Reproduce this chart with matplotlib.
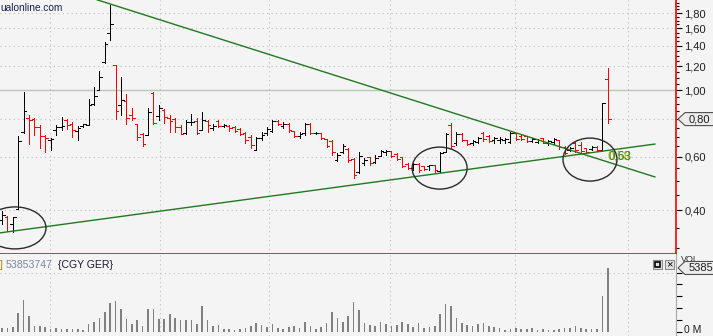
import matplotlib
matplotlib.use('Agg')
import numpy as np
import matplotlib.pyplot as plt
from matplotlib.patches import Ellipse, Polygon, Rectangle
from matplotlib.transforms import IdentityTransform, ScaledTranslation
from matplotlib.ticker import FixedLocator, FixedFormatter, NullFormatter

plt.rcParams['font.family'] = ['Liberation Sans', 'DejaVu Sans']

# daily OHLC (EUR)
opens = [.371, .380, .360, .403, .726, .808, .801, .754, .704, .683,
         .737, .754, .795, .771, .731, .760, .766, .899, 1.000, 1.238,
         1.545, 1.210, .892, .920, .826, .771, .715, .709, .977, .820,
         .858, .808, .801, .754, .720, .783, .789, .737, .789, .748,
         .789, .760, .760, .754, .743, .720, .699, .633, .693, .720,
         .731, .789, .760, .771, .731, .704, .720, .771, .720, .720,
         .688, .678, .586, .623, .638, .590, .535, .573, .600, .577,
         .604, .623, .628, .614, .600, .569, .551, .569, .560, .560,
         .564, .539, .623, .766, .667, .715, .683, .667, .672, .720,
         .704, .683, .683, .683, .672, .720, .704, .704, .678, .672,
         .693, .667, .672, .683, .647, .633, .667, .657, .642, .638,
         .647, .633, 1.088]
highs = [.397, .382, .380, .704, .985, .826, .808, .766, .709, .693,
         .766, .814, .801, .783, .760, .771, .934, 1.023, 1.156, 1.443,
         1.913, 1.210, 1.104, .970, .872, .771, .720, .872, .985, .892,
         .865, .826, .808, .766, .795, .833, .808, .845, .795, .771,
         .795, .771, .766, .760, .748, .726, .709, .699, .726, .754,
         .795, .795, .783, .777, .731, .726, .777, .777, .726, .720,
         .688, .683, .618, .662, .642, .595, .623, .595, .600, .609,
         .633, .633, .628, .618, .600, .573, .573, .573, .560, .564,
         .564, .623, .720, .777, .726, .720, .683, .683, .699, .726,
         .709, .699, .699, .693, .726, .720, .715, .704, .693, .688,
         .693, .683, .693, .683, .652, .647, .672, .672, .642, .652,
         .652, .905, 1.183]
lows = [.360, .341, .338, .403, .720, .662, .709, .642, .623, .633,
        .709, .737, .743, .699, .683, .754, .766, .892, 1.000, 1.229,
        1.465, .801, .826, .771, .795, .683, .652, .709, .771, .795,
        .777, .726, .726, .715, .715, .766, .715, .737, .726, .737,
        .754, .754, .731, .726, .709, .667, .642, .633, .683, .709,
        .726, .766, .748, .726, .699, .693, .709, .715, .715, .688,
        .647, .609, .582, .618, .577, .511, .531, .564, .564, .573,
        .604, .609, .600, .586, .556, .547, .543, .535, .543, .543,
        .535, .535, .623, .642, .657, .678, .657, .657, .667, .678,
        .672, .667, .667, .667, .667, .683, .683, .672, .672, .667,
        .667, .657, .662, .638, .614, .628, .623, .623, .618, .633,
        .628, .633, .777]
closes = [.385, .341, .380, .678, .852, .795, .754, .704, .693, .688,
          .754, .760, .766, .737, .748, .771, .892, .955, 1.104, 1.421,
          1.655, .852, .927, .808, .808, .699, .662, .845, .777, .872,
          .814, .789, .754, .715, .783, .783, .720, .795, .766, .760,
          .760, .766, .748, .731, .715, .683, .657, .693, .709, .743,
          .789, .771, .771, .737, .704, .715, .771, .720, .720, .693,
          .652, .623, .609, .652, .586, .523, .604, .586, .573, .595,
          .628, .628, .604, .590, .560, .551, .569, .543, .547, .564,
          .543, .618, .715, .652, .715, .683, .662, .678, .693, .688,
          .678, .693, .688, .688, .720, .688, .688, .678, .688, .683,
          .667, .678, .688, .647, .618, .642, .633, .628, .623, .647,
          .633, .905, .801]
# volume in millions of shares
volume_m = [3.6, 3.6, 4.2, 16.0, 26.7, 13.2, 4.8, 4.8, 4.0, 2.8,
            3.6, 2.8, 2.8, 2.3, 2.3, 1.4, 6.5, 8.2, 12.0, 16.6,
            24.4, 25.8, 19.6, 11.2, 6.5, 9.8, 4.8, 19.6, 19.6, 10.7,
            10.7, 15.4, 11.8, 10.3, 9.8, 9.8, 7.0, 21.6, 9.8, 4.8,
            5.6, 2.8, 2.8, 1.9, 2.5, 3.4, 5.0, 7.6, 5.9, 4.2,
            6.7, 3.4, 2.5, 4.2, 5.0, 3.4, 8.4, 5.0, 2.5, 4.2,
            7.6, 16.8, 11.8, 8.4, 13.5, 25.2, 18.5, 7.6, 5.9, 5.0,
            8.4, 6.7, 5.0, 5.9, 8.4, 6.7, 4.2, 7.6, 3.4, 4.2,
            5.0, 15.1, 23.5, 21.9, 11.8, 7.6, 5.9, 5.0, 6.7, 7.6,
            5.0, 4.2, 3.4, 1.9, 2.8, 3.6, 2.8, 2.8, 3.1, 1.9,
            2.3, 1.4, 1.9, 2.5, 3.1, 3.6, 4.8, 3.1, 2.5, 2.3,
            2.8, 30.0, 53.85]
last_volume = 53853747

month_starts = [8.9, 29.2, 49.4, 71.7, 94.8, 115.7]
price_ticks = [0.40, 0.60, 0.80, 1.00, 1.20, 1.40, 1.60, 1.80]

# hand drawn trend lines and circles (bar index, price)
trend_down = ([17.6, 120.7], [1.99, 0.515])
trend_up = ([-0.4, 120.7], [0.336, 0.662])
circles = [(2.4, 0.349, 62, 42), (80.9, 0.551, 55, 42), (108.7, 0.588, 54, 43)]

BG = '#f4f4f4'
W, H = 713, 336
fig = plt.figure(figsize=(W / 100, H / 100), dpi=100, facecolor=BG)
ax = fig.add_axes([0, 82 / H, 676 / W, 254 / H], facecolor=BG)
axv = fig.add_axes([0, 0, 676 / W, 82 / H], facecolor=BG)

n = len(closes)
x = np.arange(n)
o, hi, lo, c = map(np.array, (opens, highs, lows, closes))
cols = np.where(c >= o, '#000000', '#ff0000')

LW = 0.72  # one pixel
ax.vlines(x, lo, hi, colors=cols, lw=LW, antialiased=False, zorder=3)
ax.hlines(o, x - 0.5, x, colors=cols, lw=LW, antialiased=False, zorder=3)
ax.hlines(c, x, x + 0.5, colors=cols, lw=LW, antialiased=False, zorder=3)

ax.set_yscale('log')
ax.set_ylim(0.286, 1.988)
ax.set_xlim(-0.37, 124.6)

dots = (0, (1, 3))
for m in month_starts:
    ax.axvline(m, color='#bdbdbd', lw=0.8, ls=dots, zorder=1)
    axv.axvline(m, color='#bdbdbd', lw=0.8, ls=dots, zorder=1)
for p in price_ticks:
    if p != 1.0:
        ax.axhline(p, color='#bdbdbd', lw=0.8, ls=dots, zorder=1)
ax.axhline(1.0, color='#b4ccb0', lw=1, zorder=1)

ax.plot(*trend_down, color='#1f7a1f', lw=1, zorder=4)
ax.plot(*trend_up, color='#1f7a1f', lw=1, zorder=4)
ax.text(112, 0.60, '0,58', color='#b8a800', fontsize=8.5, va='center', zorder=5)
ax.text(112.1, 0.60, '0,63', color='#2e8b2e', fontsize=8.5, va='center', zorder=5)

# y axis on the right
ax.yaxis.tick_right()
ax.yaxis.set_major_locator(FixedLocator(price_ticks))
ax.yaxis.set_major_formatter(FixedFormatter(
    ['' if p == 0.8 else ('%.2f' % p).replace('.', ',') for p in price_ticks]))
minor = [v for v in np.arange(0.30, 1.96, 0.05) if min(abs(v - t) for t in price_ticks) > 0.01]
ax.yaxis.set_minor_locator(FixedLocator(minor))
ax.yaxis.set_minor_formatter(NullFormatter())
ax.tick_params(axis='y', which='major', length=4, width=0.8, labelsize=8,
               pad=2, labelcolor='#202020')
ax.tick_params(axis='y', which='minor', length=2.5, width=0.8)
ax.set_xticks([])
for s in ('left', 'top'):
    ax.spines[s].set_visible(False)
for s in ('right', 'bottom'):
    ax.spines[s].set_color('#ff0000')
    ax.spines[s].set_linewidth(1.2)
    ax.spines[s].set_zorder(6)

# volume panel
axv.bar(x, volume_m, width=0.3, color='#808080', zorder=3)
axv.set_xlim(ax.get_xlim())
axv.set_ylim(-3.37, 65.6)
axv.axhline(50, color='#bdbdbd', lw=0.8, ls=dots, zorder=1)
axv.yaxis.tick_right()
axv.set_yticks([0, 10, 20, 30, 40, 50])
axv.set_yticklabels(['0 M', '', '', '', '', ''])
axv.tick_params(axis='y', length=4, width=0.8, labelsize=7.5, pad=2,
                labelcolor='#202020')
lift = ScaledTranslation(0, 2.5 / 72, fig.dpi_scale_trans)
for lab in axv.get_yticklabels():
    lab.set_transform(lab.get_transform() + lift)
axv.set_xticks([])
for s in ('left', 'top', 'bottom'):
    axv.spines[s].set_visible(False)
axv.spines['right'].set_color('#a8a8a8')

# circles drawn in screen pixels
for ci, cp, cw, ch in circles:
    cx, cy = ax.transData.transform((ci, cp))
    e = Ellipse((cx, cy), cw, ch, transform=IdentityTransform(), fill=False,
                ec='#2a2a2a', lw=1, zorder=5)
    ax.add_artist(e)


# last value tags on the axes
def tag(ypix, label):
    pts = [(678, ypix), (685, ypix + 6.5), (720, ypix + 6.5),
           (720, ypix - 6.5), (685, ypix - 6.5)]
    fig.add_artist(Polygon(pts, closed=True, transform=IdentityTransform(),
                           fc='#ececec', ec='#505050', lw=0.8, zorder=10))
    fig.text(689 / W, ypix / H, label, fontsize=8, va='center',
             color='#202020', zorder=11)


fig.text(681 / W, (336 - 259) / H, 'VOL', fontsize=6.5, va='center', color='#303030')
tag(ax.transData.transform((0, closes[-1]))[1], ('%.2f' % closes[-1]).replace('.', ','))
tag(axv.transData.transform((0, last_volume / 1e6))[1], str(last_volume))

# header texts
fig.text(0, (336 - 8) / H, 'ualonline.com', fontsize=7.3, va='center', color='#1c2050')
hy = (336 - 265) / H
fig.text(0, hy, ']', fontsize=7.6, va='center', color='#c07800')
fig.text(6 / W, hy, str(last_volume), fontsize=7.6, va='center', color='#7888a0')
fig.text(58 / W, hy, '{CGY GER}', fontsize=7.6, va='center', color='#1a1a30')

# little panel buttons
for bx in (653, 665):
    fig.add_artist(Rectangle((bx, 336 - 269), 9, 9, transform=IdentityTransform(),
                             fc='#e4e4e4', ec='#8a8a8a', lw=0.8))
fig.add_artist(Rectangle((655, 336 - 267), 5, 5, transform=IdentityTransform(),
                         fc='none', ec='#000000', lw=1.2))
fig.text(669.5 / W, (336 - 264.5) / H, '×', fontsize=8, ha='center', va='center')

fig.savefig('out.png', dpi=100, facecolor=BG)
